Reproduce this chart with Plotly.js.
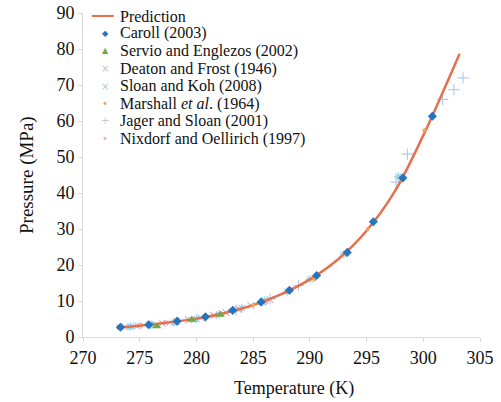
<!DOCTYPE html>
<html>
<head>
<meta charset="utf-8">
<script src="https://cdn.plot.ly/plotly-3.0.1.min.js"></script>
<style>html,body{margin:0;padding:0;background:#fff}#chart{width:501px;height:402px}</style>
</head>
<body>
<div id="chart"></div>
<script>
// ---- data ----
const predT = [273.0, 275.0, 277.5, 280.0, 282.5, 285.0, 287.5, 290.0, 292.5, 295.0, 297.5, 300.0, 302.0, 303.2];
const predP = [2.55, 3.15, 4.0, 5.1, 6.65, 8.85, 11.9, 16.0, 21.6, 29.5, 40.5, 56.0, 70.0, 78.7];

const carollT = [273.3, 275.8, 278.3, 280.8, 283.2, 285.7, 288.2, 290.6, 293.3, 295.6, 298.2, 300.8];
const carollP = [2.7, 3.4, 4.4, 5.6, 7.4, 9.7, 13.0, 17.1, 23.5, 32.0, 44.2, 61.3];

const servioT = [276.5, 279.6, 282.1];
const servioP = [3.0, 4.8, 6.2];

const deatonT = [273.7, 274.8, 275.9, 277.0, 278.2, 279.3, 280.4, 281.5, 282.6, 283.7, 284.8, 285.9, 286.5];
const deatonP = [2.8, 3.1, 3.4, 3.8, 4.3, 4.8, 5.3, 6.0, 6.8, 7.7, 8.7, 9.8, 10.4];

const sloanT = [274.2, 276.0, 278.0, 280.0, 282.0, 284.0, 286.0, 288.0, 290.0, 293.0, 297.8];
const sloanP = [2.9, 3.4, 4.0, 5.0, 6.3, 8.0, 10.1, 12.6, 16.0, 23.0, 44.5];

const marshallT = [285.0, 290.4, 295.1, 298.1, 300.1];
const marshallP = [8.9, 16.0, 30.0, 43.8, 57.4];

const jagerT = [283.5, 286.5, 289.0, 297.6, 298.6, 301.7, 302.7, 303.5];
const jagerP = [7.5, 10.6, 14.3, 43.0, 50.8, 66.0, 68.7, 72.0];

const nixdorfT = [273.2, 275.0, 277.3, 279.5, 281.6, 283.8, 286.1, 288.3];
const nixdorfP = [2.7, 3.2, 3.9, 4.8, 6.0, 7.7, 10.0, 13.1];

const seriesNames = ['Prediction', 'Caroll (2003)', 'Servio and Englezos (2002)', 'Deaton and Frost (1946)',
  'Sloan and Koh (2008)', 'Marshall <i>et al</i>. (1964)', 'Jager and Sloan (2001)', 'Nixdorf and Oellirich (1997)'];

const xTicks = [270, 275, 280, 285, 290, 295, 300, 305];
const yTicks = [0, 10, 20, 30, 40, 50, 60, 70, 80, 90];

const xTitle = 'Temperature (K)';
const yTitle = 'Pressure (MPa)';

// ---- styles ----
const colors = ['#e4704f', '#2475bb', '#73a844', '#c8bfe0', '#93d0e6', '#f5a35a', '#b9cbe8', '#f2a7bd'];
const symbols = [null, 'diamond', 'triangle-up', 'x-thin', 'asterisk', 'circle', 'cross-thin', 'x-thin'];
const legendGlyphs = ['\u2501\u2501\u2501', '\u25C6', '\u25B2', '\u00D7', '\u00D7', '\u2022', '+', '\u2022'];

function sc(i, x, y, size) {
  const m = {symbol: symbols[i], color: colors[i], size: size};
  if (symbols[i].indexOf('thin') >= 0 || symbols[i] === 'asterisk') m.line = {color: colors[i], width: 1.2};
  return {x: x, y: y, type: 'scatter', mode: 'markers', name: seriesNames[i], marker: m};
}

const traces = [
  sc(3, deatonT, deatonP, 7),
  sc(4, sloanT, sloanP, 7),
  sc(7, nixdorfT, nixdorfP, 5),
  sc(6, jagerT, jagerP, 8),
  {x: predT, y: predP, type: 'scatter', mode: 'lines', name: seriesNames[0],
   line: {color: colors[0], width: 2.5, shape: 'spline'}},
  sc(5, marshallT, marshallP, 4),
  sc(2, servioT, servioP, 8),
  sc(1, carollT, carollP, 7)
];

const serif = 'Liberation Serif';
const L = 83, R = 480, T = 13, B = 337;
const px2x = p => (p - L) / (R - L);
const px2y = p => 1 - (p - T) / (B - T);

const axisCommon = {
  showgrid: false, zeroline: false, showline: true, linecolor: '#d9d9d9', linewidth: 1,
  ticks: 'outside', ticklen: 4, tickcolor: '#d9d9d9', tickfont: {family: serif, size: 18, color: '#111'}
};

const annotations = [];
for (let i = 0; i < seriesNames.length; i++) {
  const yPix = 16 + i * 17.5;
  annotations.push({
    xref: 'paper', yref: 'paper', x: px2x(118), y: px2y(yPix),
    xanchor: 'left', yanchor: 'middle', showarrow: false, text: seriesNames[i],
    font: {family: serif, size: 16, color: '#111'}
  });
  annotations.push({
    xref: 'paper', yref: 'paper', x: px2x(i === 0 ? 102 : 105), y: px2y(yPix),
    xanchor: 'center', yanchor: 'middle', showarrow: false, text: legendGlyphs[i],
    font: {family: 'DejaVu Sans', size: i === 0 ? 12 : (i <= 2 ? 8 : 10), color: colors[i]}
  });
}
annotations.push({
  xref: 'paper', yref: 'paper', x: px2x(294), y: px2y(388), xanchor: 'center', yanchor: 'middle',
  showarrow: false, text: xTitle, font: {family: serif, size: 18, color: '#111'}
});
annotations.push({
  xref: 'paper', yref: 'paper', x: px2x(27), y: px2y(175), xanchor: 'center', yanchor: 'middle',
  textangle: -90, showarrow: false, text: yTitle, font: {family: serif, size: 19, color: '#111'}
});

const layout = {
  width: 501, height: 402,
  margin: {l: L, r: 501 - R, t: T, b: 402 - B},
  paper_bgcolor: '#fff', plot_bgcolor: '#fff',
  showlegend: false,
  xaxis: Object.assign({}, axisCommon, {
    range: [270, 305], tickvals: xTicks, ticktext: xTicks.map(String)
  }),
  yaxis: Object.assign({}, axisCommon, {
    range: [0, 90], tickvals: yTicks, ticktext: yTicks.map(String)
  }),
  annotations: annotations
};

Plotly.newPlot('chart', traces, layout, {displayModeBar: false, staticPlot: true});
</script>
</body>
</html>
